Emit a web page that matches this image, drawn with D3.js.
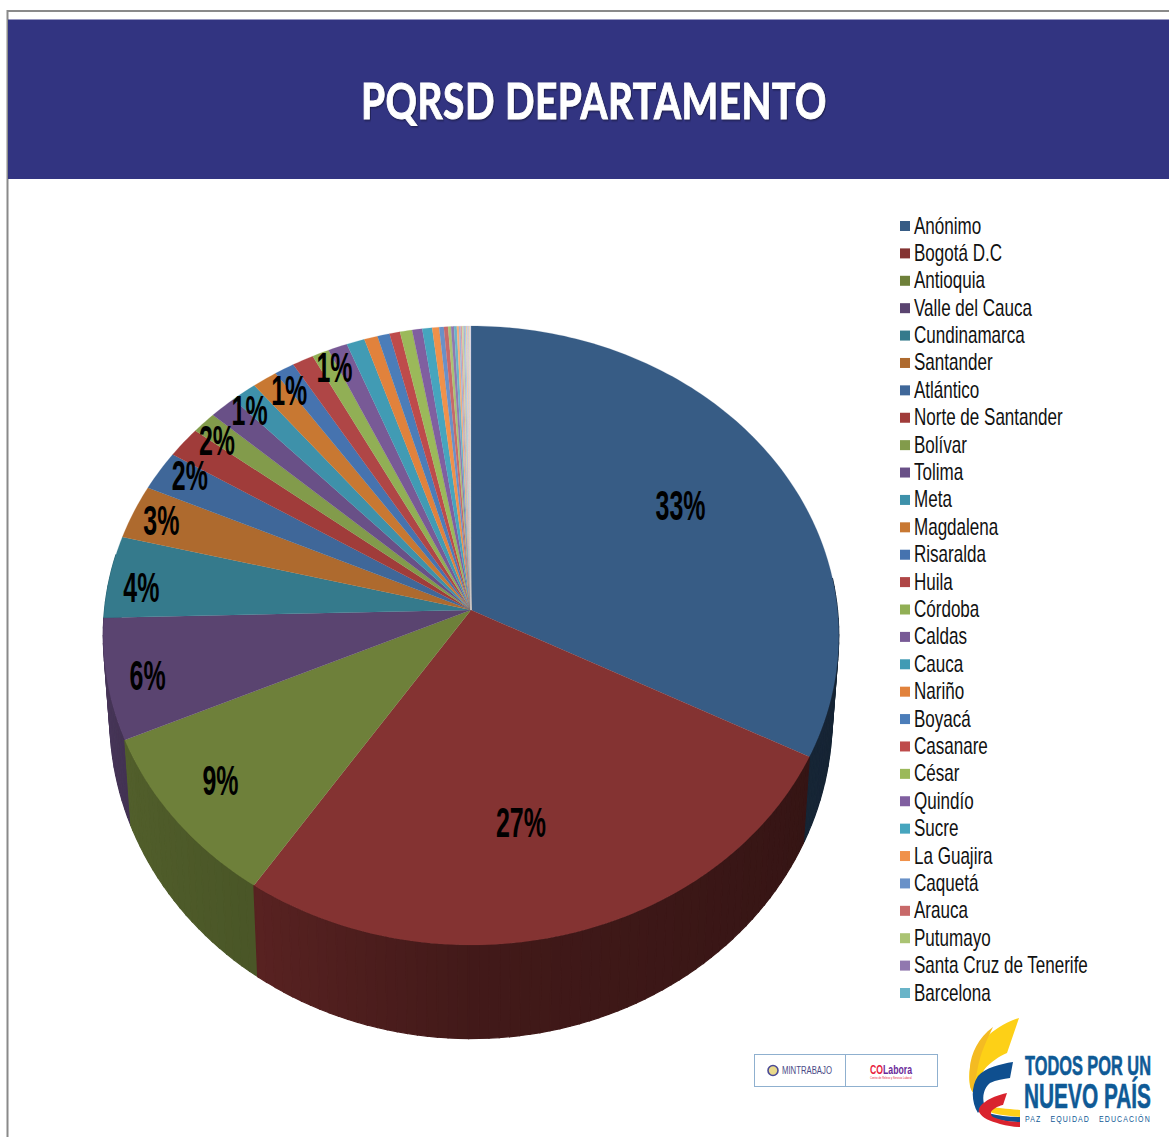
<!DOCTYPE html>
<html>
<head>
<meta charset="utf-8">
<title>PQRSD Departamento</title>
<script src="https://d3js.org/d3.v7.min.js"></script>
<style>
  html, body { margin: 0; padding: 0; background: #fff; }
  svg { display: block; }
</style>
</head>
<body>
<div id="box1"><svg id="box1_svg"></svg></div>
<script>
"use strict";

const departamentos = ['Anónimo', 'Bogotá D.C', 'Antioquia', 'Valle del Cauca', 'Cundinamarca', 'Santander',
  'Atlántico', 'Norte de Santander', 'Bolívar', 'Tolima', 'Meta', 'Magdalena', 'Risaralda', 'Huila', 'Córdoba',
  'Caldas', 'Cauca', 'Nariño', 'Boyacá', 'Casanare', 'César', 'Quindío', 'Sucre', 'La Guajira', 'Caquetá',
  'Arauca', 'Putumayo', 'Santa Cruz de Tenerife', 'Barcelona'];

// percentages
const valores = [32.6, 26.7, 9.0, 6.3, 4.3, 2.85, 2.1, 1.65, 1.17, 1.28, 1.22, 1.19, 0.95, 1.02, 0.81,
  0.92, 0.86, 0.64, 0.58, 0.5, 0.58, 0.48, 0.47, 0.33, 0.22, 0.2, 0.14, 0.14, 0.13];

const colores = ['#375c85', '#843332', '#6e803a', '#5a4470', '#357a8c', '#ae6a2e',
  '#3f6799', '#a03c3a', '#829b4b', '#695087', '#3e91aa', '#c87832', '#4673af', '#af4646', '#91af55',
  '#785a96', '#419bb4', '#e1823c', '#4b7db9', '#be4b4b', '#9bb95a', '#805fa0', '#46a5be', '#f0914a', '#6991c8',
  '#c86969', '#aac373', '#9178af', '#69b4c8'];

// thin slices after Barcelona, not in the legend
const restoValores = [0.1, 0.08, 0.07, 0.07, 0.06, 0.06, 0.05, 0.05, 0.05, 0.04, 0.04];
const restoColores = ['#f5ae7c', '#9db5da', '#dd9f9f', '#c6d9a3', '#b9a9cf', '#a1d3e0', '#f8c49c', '#bccbe4', '#e6bdbd', '#d6e3bf', '#d8d2e2'];

// data labels: text, where it sits around the pie (share of the turn), radius in the pie
const etiquetaTexto = ['33%', '27%', '9%', '6%', '4%', '3%', '2%', '2%', '1%', '1%', '1%'];
const etiquetaGiro = [0.164, 0.469, 0.6417, 0.7125, 0.763, 0.803, 0.833, 0.857, 0.881, 0.9036, 0.93];
const etiquetaRadio = [0.686, 0.666, 0.841, 0.892, 0.908, 0.916, 0.918, 0.928, 0.939, 0.926, 0.936];

const width = 1169, height = 1137;

const svg = d3.select('#box1_svg')
  .attr('width', width)
  .attr('height', height)
  .style('font-family', '"Liberation Sans", Arial, sans-serif');

// frame and header
svg.append('line').attr('x1', 7).attr('x2', width).attr('y1', 11).attr('y2', 11)
  .attr('stroke', '#8a8a8a').attr('stroke-width', 2);
svg.append('line').attr('x1', 7.5).attr('x2', 7.5).attr('y1', 10).attr('y2', height)
  .attr('stroke', '#8a8a8a').attr('stroke-width', 2);
svg.append('rect').attr('x', 8).attr('y', 19.5).attr('width', width - 8).attr('height', 159.5)
  .attr('fill', '#323481');

// squeeze a text horizontally until it has the wanted width
const fit_text = (sel, x, y, w) => {
  const len = sel.node().getComputedTextLength();
  sel.attr('transform', `translate(${x},${y}) scale(${w / len},1)`);
  return sel;
};

const title = svg.append('text')
  .text('PQRSD DEPARTAMENTO')
  .attr('fill', '#fff')
  .attr('stroke', '#fff')
  .attr('stroke-width', 1)
  .attr('font-size', 50)
  .attr('font-weight', 700)
  .attr('letter-spacing', 0.6)
  .style('font-family', 'Lato, sans-serif')
  .style('filter', 'drop-shadow(1px 1px 1px rgba(0,0,0,0.45))');
fit_text(title, 361, 119, 466);

// pie: top face and bottom ring are two perspective views of the same circle
const pieX = 471, depth = -0.0824;
const rings = {
  top: { r: 366.5, a: 257.1, b: 610 },
  bottom: { r: 360, a: 262, b: 691 }
};

const project = (angle, ring, k = 1) => {
  const px = Math.sin(angle) * k, py = -Math.cos(angle) * k;
  const w = 1 + depth * py;
  return [pieX + ring.r * px / w, (ring.a * py + ring.b) / w];
};

const slices = d3.pie().sort(null).value(d => d.v)(
  valores.concat(restoValores).map((v, i) => ({ v: v, color: colores.concat(restoColores)[i] }))
);

// wall gets darker towards the right side
const deg = Math.PI / 180;
const shade = d3.scaleLinear()
  .domain([90, 117, 180, 214, 246, 275].map(d => d * deg))
  .range([0.38, 0.40, 0.5, 0.67, 0.74, 0.85])
  .clamp(true);

const wall_color = d => {
  const c = d3.rgb(d.color), k = shade((d.a0 + d.a1) / 2);
  return d3.rgb(c.r * k, c.g * k, c.b * k);
};

const line = d3.line();
const strips = [];
slices.forEach(s => {
  const step = 1.5 * deg;
  let a0 = s.startAngle;
  while (a0 < s.endAngle) {
    const a1 = Math.min(a0 + step, s.endAngle);
    if (a1 > 85 * deg && a0 < 280 * deg) strips.push({ a0, a1, color: s.data.color });
    a0 = a1;
  }
});
strips.sort((p, q) => -Math.cos((p.a0 + p.a1) / 2) - -Math.cos((q.a0 + q.a1) / 2));

svg.append('g').selectAll('path')
  .data(strips)
  .join('path')
  .attr('d', d => line([project(d.a0, rings.top), project(d.a1, rings.top),
    project(d.a1, rings.bottom), project(d.a0, rings.bottom)]) + 'Z')
  .attr('fill', wall_color)
  .attr('stroke', wall_color)
  .attr('stroke-width', 1.2);

const face_path = s => {
  const n = Math.max(2, Math.ceil((s.endAngle - s.startAngle) / deg));
  const pts = d3.range(n + 1).map(i => project(s.startAngle + (s.endAngle - s.startAngle) * i / n, rings.top));
  return line([[pieX, rings.top.b]].concat(pts)) + 'Z';
};

svg.append('g').selectAll('path')
  .data(slices)
  .join('path')
  .attr('d', face_path)
  .attr('fill', d => d.data.color)
  .attr('stroke', d => d.data.color)
  .attr('stroke-width', 0.2);

// data labels
etiquetaTexto.forEach((t, i) => {
  const p = project(etiquetaGiro[i] * 2 * Math.PI, rings.top, etiquetaRadio[i]);
  svg.append('text')
    .text(t)
    .attr('transform', `translate(${p[0]},${p[1] + 15}) scale(0.58,1)`)
    .attr('text-anchor', 'middle')
    .attr('font-size', 43)
    .attr('font-weight', 700)
    .attr('fill', '#000');
});

// legend
const legendY = d3.scaleLinear().domain([0, departamentos.length - 1]).range([226, 993]);
const legend = svg.append('g').selectAll('g')
  .data(departamentos)
  .join('g')
  .attr('transform', (d, i) => `translate(900,${legendY(i)})`);
legend.append('rect')
  .attr('x', 0).attr('y', -5).attr('width', 10).attr('height', 10)
  .attr('fill', (d, i) => colores[i]);
legend.append('text')
  .text(d => d)
  .attr('transform', 'translate(14,7.5) scale(0.71,1)')
  .attr('font-size', 24)
  .attr('fill', '#111');

// logos
const logos = svg.append('g');
logos.append('rect').attr('x', 754.5).attr('y', 1054.5).attr('width', 183).attr('height', 32)
  .attr('fill', '#fff').attr('stroke', '#8fb0cf');
logos.append('line').attr('x1', 845.5).attr('x2', 845.5).attr('y1', 1055).attr('y2', 1087)
  .attr('stroke', '#8fb0cf');
logos.append('circle').attr('cx', 773).attr('cy', 1070.5).attr('r', 5).attr('fill', '#e9d98a')
  .attr('stroke', '#4a4a96').attr('stroke-width', 1.6);
fit_text(logos.append('text').text('MINTRABAJO').attr('font-size', 10).attr('fill', '#4a4a86'), 782, 1074, 50);
const colabora = logos.append('text').attr('font-size', 12).attr('font-weight', 700);
colabora.append('tspan').text('CO').attr('fill', '#e8203c');
colabora.append('tspan').text('Labora').attr('fill', '#6a2a9a');
fit_text(colabora, 870, 1073.5, 42);
fit_text(logos.append('text').text('Centro de Relevo y Servicio Laboral').attr('font-size', 3).attr('fill', '#e8203c'), 870, 1079, 42);

const swoosh = [
  ['#fdd017', 'M1019,1018C1000,1024 975,1040 970,1067C968,1080 970,1090 973,1092L984,1070C990,1062 1000,1056 1007,1053Z'],
  ['#f4bb22', 'M993,1027C978,1038 971,1054 970,1067C969,1080 970,1090 973,1092L977,1072C980,1052 988,1038 993,1027Z'],
  ['#0f4f8f', 'M1013,1062C1000,1064 985,1068 978,1076C971,1086 971,1102 978,1113L984,1104C982,1096 984,1088 990,1083C996,1080 1004,1079 1010,1078Z'],
  ['#fdd017', 'M987,1106C995,1108 1010,1109 1020,1110L1020,1117C1010,1116 997,1115 990,1112Z'],
  ['#0f4f8f', 'M988,1113C998,1116 1010,1117 1020,1117L1020,1122C1008,1122 996,1120 987,1116Z'],
  ['#d9232e', 'M1007,1093C998,1095 990,1098 985,1102C980,1105 978,1109 979,1112C982,1118 990,1121 1000,1124C1008,1126 1015,1127 1020,1127L1020,1122C1010,1122 1000,1120 993,1117C990,1115 990,1111 994,1109C998,1106 1002,1105 1003,1105Z']
];
logos.selectAll('path.swoosh')
  .data(swoosh)
  .join('path')
  .attr('class', 'swoosh')
  .attr('d', d => d[1])
  .attr('fill', d => d[0]);

const blue_logo = '#0f5a96';
fit_text(logos.append('text').text('TODOS POR UN').attr('font-size', 27).attr('font-weight', 700).attr('fill', blue_logo).attr('stroke', blue_logo).attr('stroke-width', 0.6), 1025, 1075, 126);
fit_text(logos.append('text').text('NUEVO PAÍS').attr('font-size', 36).attr('font-weight', 700).attr('fill', blue_logo).attr('stroke', blue_logo).attr('stroke-width', 0.6), 1024, 1108, 127);
fit_text(logos.append('text').text('PAZ   EQUIDAD   EDUCACIÓN').attr('font-size', 9).attr('letter-spacing', 1.4).attr('xml:space', 'preserve').style('white-space', 'pre').attr('fill', blue_logo), 1025, 1122, 126);
</script>
</body>
</html>
